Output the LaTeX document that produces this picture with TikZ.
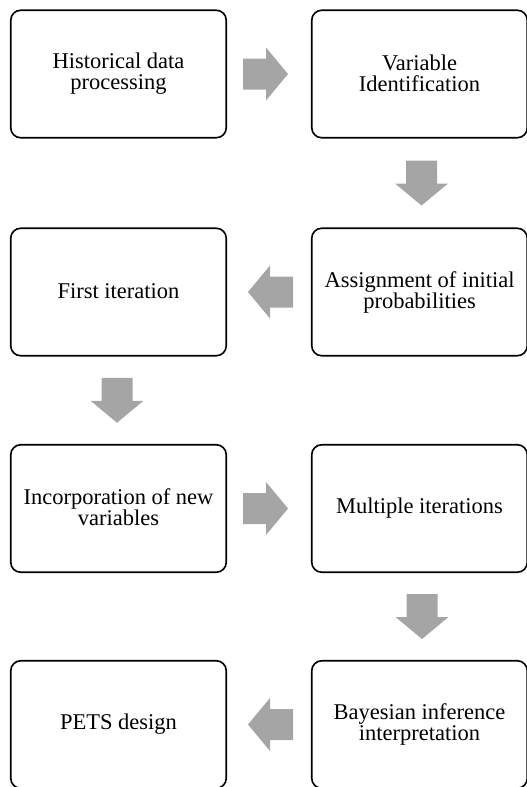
\documentclass[tikz,border=0pt]{standalone}
\usepackage{fontspec}
\setmainfont{Liberation Serif}
\usetikzlibrary{calc}
\definecolor{arrowgray}{HTML}{A5A5A5}
\newcommand{\lst}{\rule[-2pt]{0pt}{17pt}}
\tikzset{
  x=1pt,y=1pt,
  stepbox/.style={draw=black, line width=1.6pt, rounded corners=10pt,
    minimum width=215.5pt, minimum height=127.5pt, inner sep=0pt,
    align=center, font=\fontsize{22.5}{21}\selectfont},
  blockarr/.pic={\fill[arrowgray] (-22.5,-15.5) -- (0.5,-15.5) -- (0.5,-26.5)
     -- (22.5,0) -- (0.5,26.5) -- (0.5,15.5) -- (-22.5,15.5) -- cycle;}
}
\begin{document}
\begin{tikzpicture}
\useasboundingbox (0,0) rectangle (527,-787);
\clip (0,0) rectangle (527,-787);
\node[stepbox] (n1) at (118.5,-74) {\lst Historical data\\\lst processing};
\node[stepbox] (n2) at (419.5,-74) {\lst Variable\\\lst Identification};
\node[stepbox] (n3) at (419.5,-292) {\lst Assignment of initial\\\lst probabilities};
\node[stepbox] (n4) at (118.5,-292) {\lst First iteration};
\node[stepbox] (n5) at (118.5,-508.5) {\lst Incorporation of new\\\lst variables};
\node[stepbox] (n6) at (419.5,-508.5) {\lst Multiple iterations};
\node[stepbox] (n7) at (419.5,-724.5) {\lst Bayesian inference\\\lst interpretation};
\node[stepbox] (n8) at (118.5,-724.5) {\lst PETS design};
\path ($(n1.east)!0.5!(n2.west)$) ++(-3.5,0) pic {blockarr};
\path ($(n2.south)!0.5!(n3.north)$) ++(2,0) pic[rotate=-90] {blockarr};
\path ($(n3.west)!0.5!(n4.east)$) ++(1.5,0) pic[rotate=180] {blockarr};
\path ($(n4.south)!0.5!(n5.north)$) ++(-1.5,0) pic[rotate=-90] {blockarr};
\path ($(n5.east)!0.5!(n6.west)$) ++(-3.5,0) pic {blockarr};
\path ($(n6.south)!0.5!(n7.north)$) ++(2.5,0) pic[rotate=-90] {blockarr};
\path ($(n7.west)!0.5!(n8.east)$) ++(1.5,0) pic[rotate=180] {blockarr};
\end{tikzpicture}
\end{document}
